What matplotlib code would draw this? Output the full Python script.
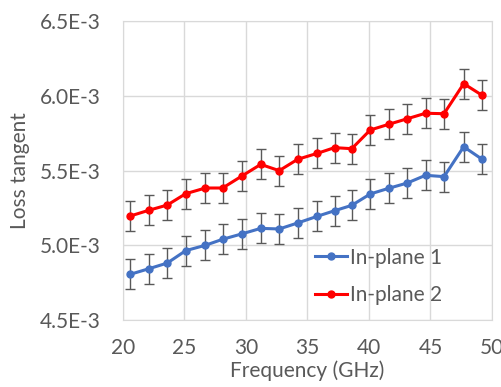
import matplotlib

matplotlib.use("Agg")
import matplotlib.pyplot as plt
from matplotlib.ticker import FuncFormatter, MultipleLocator

# --- data ---
FREQ = [20.6, 22.1, 23.6, 25.1, 26.7, 28.1, 29.7, 31.2, 32.7, 34.2,
        35.8, 37.2, 38.6, 40.1, 41.6, 43.1, 44.6, 46.1, 47.7, 49.2]
PLANE1 = [4.806, 4.843, 4.881, 4.964, 5.000, 5.040, 5.077, 5.113, 5.109, 5.149,
          5.194, 5.231, 5.267, 5.343, 5.381, 5.416, 5.468, 5.459, 5.659, 5.575]
PLANE2 = [5.196, 5.234, 5.269, 5.345, 5.383, 5.383, 5.465, 5.541, 5.499, 5.575,
          5.615, 5.653, 5.646, 5.771, 5.809, 5.846, 5.883, 5.880, 6.081, 6.003]
ERR = 0.1  # in units of 1E-3
SERIES = [("In-plane 1", PLANE1, "#4472c4"), ("In-plane 2", PLANE2, "#ff0000")]

TXT, GRID = "#595959", "#d9d9d9"
FS = 15
plt.rcParams["font.family"] = ["Lato", "DejaVu Sans"]

fig = plt.figure(figsize=(5.01, 3.87), dpi=100)
ax = fig.add_axes([0.2455, 0.1731, 0.7365, 0.7726])

for name, vals, col in SERIES:
    ax.errorbar(FREQ, [v * 1e-3 for v in vals], yerr=ERR * 1e-3,
                color=col, lw=2.2, marker="o", ms=5, ecolor=TXT, elinewidth=1,
                capsize=3.3, capthick=1, label=name, zorder=3)

ax.set_xlim(20, 50)
ax.set_ylim(4.5e-3, 6.5e-3)
ax.xaxis.set_major_locator(MultipleLocator(5))
ax.yaxis.set_major_locator(MultipleLocator(0.5e-3))
ax.yaxis.set_major_formatter(FuncFormatter(lambda v, p: f"{v * 1e3:.1f}E-3"))
ax.grid(True, color=GRID, lw=1, zorder=0)
ax.set_axisbelow(True)
for s in ax.spines.values():
    s.set_color(GRID)
ax.tick_params(length=0, labelsize=FS, colors=TXT)
ax.tick_params(axis="y", pad=16)
ax.tick_params(axis="x", pad=13)
ax.set_xlabel("Frequency (GHz)", fontsize=FS, color=TXT, va="center")
ax.set_ylabel("Loss tangent", fontsize=FS, color=TXT, va="center")
ax.xaxis.set_label_coords(0.5, -0.168)
ax.yaxis.set_label_coords(-0.279, 0.5)

handles, labels = ax.get_legend_handles_labels()
handles = [h[0] for h in handles]
fig.legend(handles, labels, loc="center left", bbox_to_anchor=(315 / 501, 1 - 276.5 / 387),
           frameon=False, fontsize=FS, labelcolor=TXT, handlelength=1.53,
           handletextpad=0.15, labelspacing=0.85, borderpad=0, borderaxespad=0)

fig.savefig("out.png", dpi=100)
